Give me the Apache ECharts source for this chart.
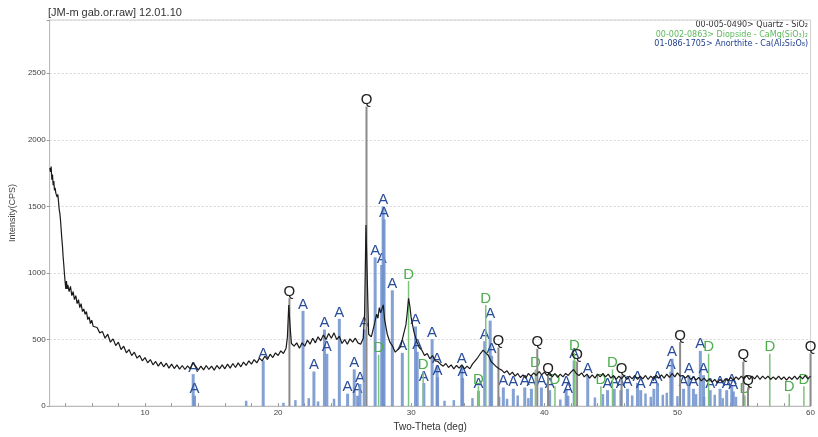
<!DOCTYPE html>
<html><head><meta charset="utf-8">
<script src="https://cdn.jsdelivr.net/npm/echarts@6/dist/echarts.min.js"></script>
<style>html,body{margin:0;padding:0;background:#fff}#c{width:818px;height:437px}</style>
</head><body><div id="c"></div>
<script>
const titleText = "[JM-m gab.or.raw] 12.01.10";
const xTickLabels = [10, 20, 30, 40, 50, 60];
const xMinorTicks = [4,6,8,10,12,14,16,18,20,22,24,26,28,30,32,34,36,38,40,42,44,46,48,50,52,54,56,58,60];
const yTickLabels = [0, 500, 1000, 1500, 2000, 2500];
const phaseNames = ["00-005-0490> Quartz - SiO\u2082", "00-002-0863> Diopside - CaMg(SiO\u2083)\u2082", "01-086-1705> Anorthite - Ca(Al\u2082Si\u2082O\u2088)"];

const scanPoints = [
[2.85,1790],[2.9,1760],[2.95,1800],[3.0,1700],[3.05,1740],[3.1,1660],[3.15,1690],[3.2,1620],[3.25,1640],[3.3,1600],
[3.35,1615],[3.4,1570],[3.45,1590],[3.5,1540],[3.55,1480],[3.6,1450],[3.65,1400],[3.7,1330],[3.75,1260],[3.8,1200],
[3.85,1120],[3.9,1060],[3.95,990],[4.0,930],[4.05,880],[4.1,940],[4.15,880],[4.2,910],[4.3,860],[4.4,900],
[4.5,830],[4.6,860],[4.7,800],[4.8,830],[4.9,770],[5.0,800],[5.1,740],[5.2,770],[5.3,710],[5.4,730],
[5.5,690],[5.6,710],[5.7,650],[5.8,670],[5.9,620],[6.0,645],[6.1,600],[6.2,615],[6.4,590],[6.6,550],
[6.8,560],[7.0,510],[7.2,540],[7.4,480],[7.6,505],[7.8,455],[8.0,480],[8.2,425],[8.4,450],[8.6,400],
[8.8,425],[9.0,380],[9.2,405],[9.4,360],[9.6,380],[9.8,340],[10.0,365],[10.2,325],[10.4,350],[10.6,310],
[10.8,335],[11.0,300],[11.2,330],[11.4,295],[11.6,322],[11.8,285],[12.0,315],[12.2,282],[12.4,310],[12.6,278],
[12.8,305],[13.0,275],[13.2,302],[13.4,280],[13.6,325],[13.7,340],[13.8,300],[14.0,270],[14.2,300],[14.4,272],
[14.6,305],[14.8,275],[15.0,300],[15.2,270],[15.4,305],[15.6,280],[15.8,310],[16.0,280],[16.2,315],[16.4,285],
[16.6,320],[16.8,290],[17.0,325],[17.2,295],[17.4,330],[17.6,305],[17.8,340],[18.0,315],[18.2,350],[18.4,325],
[18.6,360],[18.8,340],[19.0,375],[19.2,350],[19.4,390],[19.6,365],[19.8,400],[20.0,380],[20.2,415],[20.4,395],
[20.6,435],[20.7,520],[20.8,760],[20.9,600],[21.0,470],[21.2,450],[21.4,475],[21.6,435],[21.8,475],[22.0,450],
[22.2,495],[22.4,465],[22.6,510],[22.8,475],[23.0,520],[23.2,490],[23.4,535],[23.6,500],[23.8,545],[24.0,510],
[24.2,550],[24.4,500],[24.6,525],[24.8,470],[25.0,500],[25.2,465],[25.4,505],[25.6,480],[25.8,510],[26.0,475],
[26.2,465],[26.4,510],[26.5,700],[26.6,1360],[26.7,950],[26.8,540],[27.0,520],[27.2,600],[27.4,690],[27.5,660],
[27.6,740],[27.7,700],[27.8,730],[27.9,760],[28.0,650],[28.2,540],[28.4,480],[28.6,450],[28.8,405],[29.0,425],
[29.2,445],[29.4,530],[29.6,610],[29.7,700],[29.8,810],[29.9,750],[30.0,660],[30.2,560],[30.4,490],[30.6,440],
[30.8,420],[31.0,380],[31.2,395],[31.4,355],[31.6,380],[31.8,340],[32.0,335],[32.2,315],[32.4,300],[32.6,320],
[32.8,290],[33.0,310],[33.2,280],[33.4,305],[33.6,285],[33.8,310],[34.0,280],[34.2,300],[34.4,280],[34.6,315],
[34.8,340],[35.0,365],[35.2,395],[35.4,420],[35.6,400],[35.8,380],[36.0,335],[36.2,315],[36.4,295],[36.6,280],
[36.8,270],[37.0,250],[37.2,265],[37.4,235],[37.6,255],[37.8,225],[38.0,245],[38.2,215],[38.4,235],[38.6,210],
[38.8,245],[39.0,225],[39.2,250],[39.4,230],[39.6,260],[39.8,235],[40.0,255],[40.2,230],[40.4,250],[40.6,220],
[40.8,245],[41.0,215],[41.2,240],[41.4,220],[41.6,245],[41.8,230],[42.0,255],[42.2,275],[42.4,245],[42.6,230],
[42.8,250],[43.0,220],[43.2,240],[43.4,210],[43.6,235],[43.8,210],[44.0,240],[44.2,220],[44.4,245],[44.6,220],
[44.8,240],[45.0,210],[45.2,230],[45.4,200],[45.6,225],[45.8,205],[46.0,230],[46.2,200],[46.4,225],[46.6,205],
[46.8,230],[47.0,200],[47.2,225],[47.4,205],[47.6,230],[47.8,200],[48.0,225],[48.2,205],[48.4,230],[48.6,210],
[48.8,235],[49.0,210],[49.2,240],[49.4,215],[49.6,245],[49.8,220],[50.0,250],[50.2,225],[50.4,230],[50.6,210],
[50.8,230],[51.0,200],[51.2,220],[51.4,195],[51.6,215],[51.8,190],[52.0,210],[52.2,185],[52.4,205],[52.6,180],
[52.8,200],[53.0,175],[53.2,200],[53.4,180],[53.6,205],[53.8,190],[54.0,215],[54.2,195],[54.4,220],[54.6,200],
[54.8,225],[55.0,205],[55.2,230],[55.4,200],[55.6,225],[55.8,205],[56.0,230],[56.2,200],[56.4,225],[56.6,205],
[56.8,225],[57.0,200],[57.2,220],[57.4,200],[57.6,225],[57.8,200],[58.0,220],[58.2,195],[58.4,220],[58.6,200],
[58.8,225],[59.0,200],[59.2,225],[59.4,205],[59.6,230],[59.8,205],[60.0,225]
];

const quartzSticks = [[20.85,810],[26.64,2250],[36.55,440],[39.47,430],[40.28,230],[42.46,335],[45.8,230],[50.2,480],[54.95,335],[55.3,140],[60.0,395]];
const diopsideSticks = [[27.55,385],[29.8,940],[30.9,260],[35.05,150],[35.6,760],[39.33,275],[40.8,150],[42.26,400],[44.25,150],[45.12,275],[52.34,393],[55.07,80],[56.94,393],[58.4,93],[59.5,150]];
const anorthiteSticks = [[13.62,240],[13.72,78],[18.88,342],[21.87,715],[22.69,260],[23.48,575],[23.66,393],[24.6,655],[25.22,93],[25.72,276],[25.97,78],[26.15,166],[26.47,575],[27.29,1117],[27.78,1060],[27.89,1500],[27.96,1403],[28.58,870],[29.33,400],[30.32,598],[30.45,408],[30.95,173],[31.57,503],[31.94,305],[31.98,217],[33.8,305],[33.86,210],[35.05,115],[35.52,488],[35.93,642],[36.04,378],[36.92,140],[37.67,130],[38.53,140],[39.03,130],[39.78,140],[40.4,120],[41.64,130],[41.77,78],[42.24,342],[43.26,232],[44.75,120],[45.25,130],[45.75,120],[46.25,130],[47.0,173],[47.24,120],[48.23,130],[48.5,173],[49.5,260],[49.6,356],[50.46,130],[50.86,232],[51.2,130],[51.72,415],[51.96,232],[52.46,120],[53.2,130],[53.7,120],[54.08,150],[54.2,110]];
const anorthiteMinor = [[17.6,40],[20.4,25],[21.3,45],[22.3,60],[23.0,35],[24.2,55],[32.5,40],[33.2,45],[34.6,60],[36.6,70],[37.2,55],[38.0,80],[38.8,60],[41.2,50],[43.8,65],[44.4,90],[46.6,80],[47.6,95],[48.0,70],[48.9,85],[49.2,100],[50.0,75],[51.4,90],[52.0,70],[52.8,85],[53.4,60],[54.4,70]];

function stickSeries(name, data, barW, barColor, letter, letterColor, z) {
  return {
    name: name, type: 'custom', data: data, z: z, clip: false,
    renderItem: function (params, api) {
      const x = api.value(0), h = api.value(1);
      const base = api.coord([x, 0]);
      const top = api.coord([x, h]);
      const children = [{
        type: 'rect',
        shape: { x: base[0] - barW / 2, y: top[1], width: barW, height: base[1] - top[1] },
        style: { fill: barColor }
      }];
      if (letter) {
        children.push({
          type: 'text', x: top[0], y: top[1] + 1,
          style: { text: letter, fill: letterColor, font: '15px "Liberation Sans", Arial, sans-serif', align: 'center', verticalAlign: 'bottom' }
        });
      }
      return { type: 'group', children: children };
    }
  };
}

const chart = echarts.init(document.getElementById('c'), null, { renderer: 'canvas' });
chart.setOption({
  animation: false,
  backgroundColor: '#ffffff',
  textStyle: { fontFamily: '"Liberation Sans", Arial, sans-serif' },
  grid: { left: 45, right: 7, top: 20, bottom: 21, show: true, borderColor: '#d0d0d0', borderWidth: 1 },
  xAxis: {
    type: 'value', min: 2.84, max: 60,
    name: 'Two-Theta (deg)', nameLocation: 'middle', nameGap: 10,
    nameTextStyle: { fontSize: 10, color: '#333' },
    axisLine: { show: true, lineStyle: { color: '#bbb' } },
    axisTick: { show: true, inside: true, length: 3, customValues: xMinorTicks, lineStyle: { color: '#999' } },
    axisLabel: { customValues: xTickLabels, fontSize: 8, color: '#444', margin: 3 },
    splitLine: { show: false }
  },
  yAxis: {
    type: 'value', min: 0, max: 2900, interval: 500,
    name: 'Intensity(CPS)', nameLocation: 'middle', nameGap: 28, nameRotate: 90,
    nameTextStyle: { fontSize: 9, color: '#444' },
    axisLine: { show: true, lineStyle: { color: '#bbb' } },
    axisTick: { show: true, length: 3, lineStyle: { color: '#999' } },
    axisLabel: { fontSize: 8, color: '#444', margin: 4, formatter: function (v) { return yTickLabels.indexOf(v) >= 0 ? String(v) : ''; } },
    splitLine: { show: true, lineStyle: { color: '#d6d6d6', type: [2, 2] } }
  },
  graphic: [
    { type: 'text', left: 48, top: 7, style: { text: titleText, font: '11px "Liberation Sans", Arial, sans-serif', fill: '#333' } },
    { type: 'text', right: 10, top: 21, style: { text: phaseNames[0], font: '8px "DejaVu Sans", sans-serif', fill: '#333', align: 'right' } },
    { type: 'text', right: 10, top: 31, style: { text: phaseNames[1], font: '8px "DejaVu Sans", sans-serif', fill: '#5cb85c', align: 'right' } },
    { type: 'text', right: 10, top: 40, style: { text: phaseNames[2], font: '8px "DejaVu Sans", sans-serif', fill: '#1f3f8f', align: 'right' } }
  ],
  series: [
    stickSeries('AnorthiteMinor', anorthiteMinor, 2.5, 'rgba(110,145,205,0.85)', null, null, 1),
    stickSeries('Anorthite', anorthiteSticks, 3, 'rgba(110,145,205,0.85)', 'A', '#2a4d9b', 2),
    stickSeries('Diopside', diopsideSticks, 1.5, '#7cc47c', 'D', '#4cae4c', 3),
    stickSeries('Quartz', quartzSticks, 2, '#8a8a8a', 'Q', '#222', 4),
    {
      name: 'Scan', type: 'line', data: scanPoints, showSymbol: false, z: 5,
      lineStyle: { color: '#1a1a1a', width: 1.2 }
    }
  ]
});
</script>
</body></html>
